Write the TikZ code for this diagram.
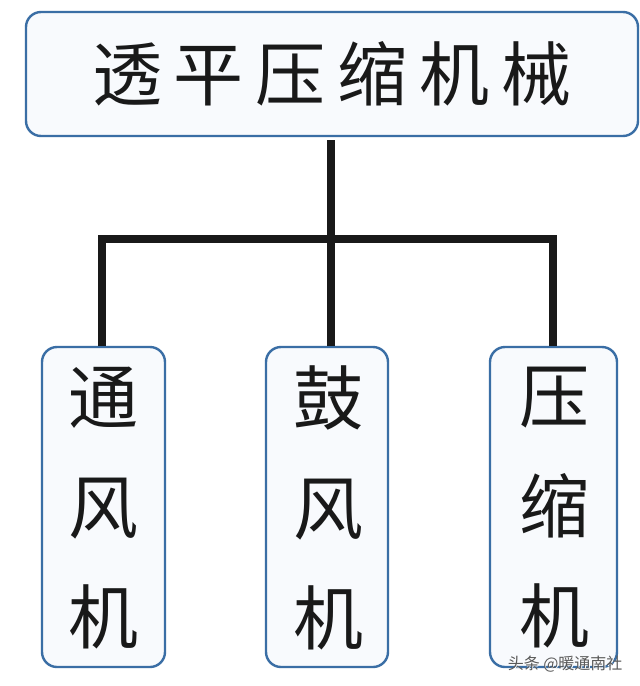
\documentclass[tikz,border=0pt]{standalone}
\usepackage{fontspec}
\newfontfamily\cjk{Noto Sans CJK SC}
\definecolor{boxblue}{HTML}{3A6EA5}
\definecolor{boxfill}{HTML}{F8FAFD}
\begin{document}
\begin{tikzpicture}[x=1pt,y=-1pt,
  box/.style={draw=boxblue,line width=2.4pt,fill=boxfill,rounded corners=15pt,inner sep=0pt},
  big/.style={font=\cjk\fontsize{70}{110}\selectfont,text=black!90,align=center,inner sep=0pt},
  vbox/.style={box,minimum height=320pt},
  conn/.style={line width=8.5pt,draw=black!90,line join=miter}]
\useasboundingbox[fill=white] (0,0) rectangle (640,686);
\node[box,big,minimum width=612pt,minimum height=124pt] (top) at (332,74)
  {透\hspace{12pt}平\hspace{12pt}压\hspace{12pt}缩\hspace{12pt}机\hspace{12pt}械};
\node[vbox,minimum width=123pt] (b1) at (103.5,507) {};
\node[vbox,minimum width=122pt] (b2) at (327,507) {};
\node[vbox,minimum width=127pt] (b3) at (553.5,507) {};
\node[big] (t1) at (103,508) {通\\风\\机};
\node[big] (t2) at (328,508) {鼓\\风\\机};
\node[big] (t3) at (554,508) {压\\缩\\机};
\coordinate (t) at (331,140);
\coordinate (j) at (331,239);
\coordinate (l) at (102,346);
\coordinate (m) at (331,346);
\coordinate (r) at (553,346);
\draw[conn] (t) -- (m);
\draw[conn] (l) |- (j) -| (r);
\node[font=\cjk\fontsize{16}{16}\selectfont,text=white,anchor=east] (wm0) at (626.8,665) {头条 @暖通南社};
\node[font=\cjk\fontsize{16}{16}\selectfont,text=black!65,anchor=east] (wm) at (626,664) {头条 @暖通南社};
\end{tikzpicture}
\end{document}
